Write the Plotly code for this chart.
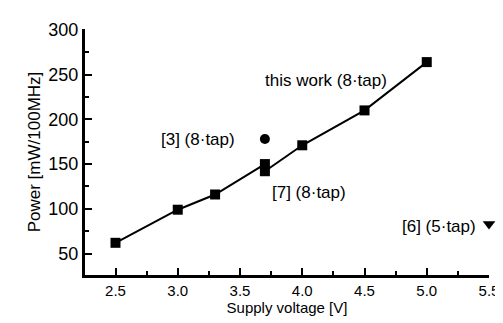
import plotly.graph_objects as go

# This work (8-tap): supply voltage vs power
this_v = [2.5, 3.0, 3.3, 3.7, 3.7, 4.0, 4.5, 5.0]
this_p = [62, 99, 116, 150, 142, 171, 210, 264]

# Reference designs
ref3_v = [3.7]
ref3_p = [178]
ref6_v = [5.5]
ref6_p = [83]

x_ticks = [2.5, 3.0, 3.5, 4.0, 4.5, 5.0, 5.5]
y_ticks = [50, 100, 150, 200, 250, 300]

FONT = "Liberation Sans, Arial, Helvetica, sans-serif"

fig = go.Figure()
fig.add_trace(go.Scatter(
    x=this_v, y=this_p, mode="lines+markers",
    line=dict(color="black", width=2),
    marker=dict(symbol="square", size=10, color="black"),
    showlegend=False))
fig.add_trace(go.Scatter(
    x=ref3_v, y=ref3_p, mode="markers",
    marker=dict(symbol="circle", size=10, color="black"),
    showlegend=False))
fig.add_trace(go.Scatter(
    x=ref6_v, y=ref6_p, mode="markers",
    marker=dict(symbol="triangle-down", size=11, color="black"),
    showlegend=False, cliponaxis=False))

ann = dict(xref="x", yref="y", showarrow=False, xanchor="left",
           font=dict(family=FONT, size=17, color="black"))
fig.add_annotation(x=3.687, y=243, text="this work (8·tap)", **ann)
fig.add_annotation(x=2.85, y=178, text="[3] (8·tap)", **ann)
fig.add_annotation(x=3.742, y=118, text="[7] (8·tap)", **ann)
fig.add_annotation(x=4.786, y=80, text="[6] (5·tap)", **ann)

fig.update_layout(
    width=503, height=323,
    margin=dict(l=77, r=16, t=15, b=56),
    paper_bgcolor="white", plot_bgcolor="white",
    font=dict(family=FONT, size=16, color="black"),
    xaxis=dict(range=[2.255, 5.5], tickvals=x_ticks,
               ticktext=[f"{v:.1f}" for v in x_ticks],
               tickfont=dict(size=15),
               showgrid=False, zeroline=False,
               showline=True, linecolor="black", linewidth=3,
               ticks="inside", ticklen=7, tickwidth=2, tickcolor="black",
               minor=dict(dtick=0.25, tick0=2.25, ticks="inside", ticklen=4,
                          tickwidth=2, tickcolor="black", showgrid=False),
               title=dict(text="Supply voltage [V]", standoff=4,
                          font=dict(size=15))),
    yaxis=dict(range=[26, 301], tickvals=y_ticks,
               tickfont=dict(size=18),
               showgrid=False, zeroline=False,
               showline=True, linecolor="black", linewidth=3,
               ticks="inside", ticklen=7, tickwidth=2, tickcolor="black",
               minor=dict(dtick=25, tick0=0, ticks="inside", ticklen=4,
                          tickwidth=2, tickcolor="black", showgrid=False),
               title=dict(text="Power [mW/100MHz]", standoff=4,
                          font=dict(size=17))),
)

fig.write_html("out.html")
